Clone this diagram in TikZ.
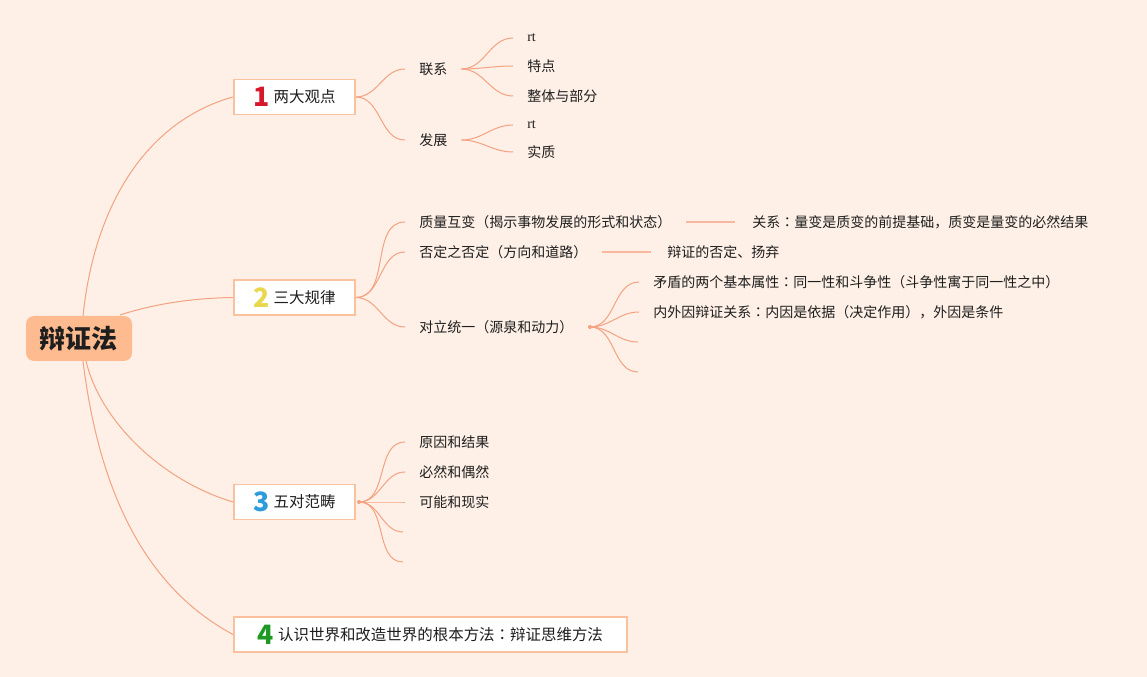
\documentclass[tikz,border=0pt]{standalone}
\usepackage{fontspec}
\setmainfont{Noto Sans CJK SC}
\newfontfamily\latinserif{Liberation Serif}
\newfontfamily\tcfont{Noto Sans CJK TC}
\usetikzlibrary{calc}
\definecolor{bg}{HTML}{FEF0E6}
\definecolor{link}{HTML}{F4A282}
\definecolor{linklight}{HTML}{F8B8A0}
\definecolor{boxline}{HTML}{F9C19E}
\definecolor{rootfill}{HTML}{FDBB8F}
\definecolor{numred}{HTML}{D7182A}
\definecolor{numyellow}{HTML}{E9D74E}
\definecolor{numblue}{HTML}{2D9CDB}
\definecolor{numgreen}{HTML}{1E9A24}
\definecolor{ink}{HTML}{1E1E1E}
\tikzset{
  conn/.style={draw=link, line width=0.75pt},
  thickconn/.style={draw=linklight, line width=1.4pt},
  lvlone/.style={draw=boxline, fill=white, line width=1.4pt, minimum height=26.25pt,
    minimum width=90.75pt, anchor=west, inner sep=0pt, text=ink},
  leaf/.style={anchor=west, inner xsep=10.5pt, inner ysep=2pt, text=ink,
    font=\fontsize{10.5}{12}\selectfont},
  hub/.style={fill=link, circle, inner sep=0pt, minimum size=3pt},
}
\newcommand{\mycolon}{{\tcfont ：}}
\newcommand{\boxcontent}[3]{$\vcenter{\hbox{\fontsize{20}{20}\selectfont\bfseries\color{#1}#2}}$\hspace{3pt}$\vcenter{\hbox{\fontsize{11.6}{14}\selectfont #3}}$}
\begin{document}
\begin{tikzpicture}[x=0.75pt,y=-0.75pt]
\fill[bg] (0,0) rectangle (1147,677);
\useasboundingbox (0,0) rectangle (1147,677);

% root
\node[fill=rootfill, rounded corners=6pt, minimum width=79.5pt, minimum height=33.75pt,
  inner sep=0pt, text=ink, font=\fontsize{19.5}{20}\selectfont\bfseries] (root) at (79,338.5) {辩证法};

% level one boxes
\node[lvlone] (b1) at (233,97) {\boxcontent{numred}{1}{两大观点}};
\node[lvlone] (b2) at (233,297.5) {\boxcontent{numyellow}{2}{三大规律}};
\node[lvlone] (b3) at (233,502) {\boxcontent{numblue}{3}{五对范畴}};
\node[lvlone, minimum width=294.75pt] (b4) at (233,634.5) {\boxcontent{numgreen}{4}{认识世界和改造世界的根本方法\mycolon 辩证思维方法}};

% root connectors
\coordinate (r1) at (83,316);
\coordinate (r2) at (120,315);
\coordinate (r3) at (86,361);
\coordinate (r4) at (83,361);
\draw[conn] (r1) .. controls (95,200) and (150,120) .. (b1.west);
\draw[conn] (r2) .. controls (160,302) and (200,298) .. (b2.west);
\draw[conn] (r3) .. controls (100,420) and (160,480) .. (b3.west);
\draw[conn] (r4) .. controls (100,500) and (150,590) .. (b4.west);

% branch 1
\node[leaf] (lx) at (405,69) {联系};
\node[leaf] (fz) at (405,140) {发展};
\node[leaf] (lx1) at (513,38) {\latinserif rt};
\node[leaf] (lx2) at (513,66) {特点};
\node[leaf] (lx3) at (513,96) {整体与部分};
\node[leaf] (fz1) at (513,125) {\latinserif rt};
\node[leaf] (fz2) at (513,152) {实质};
\draw[conn] (b1.east) to[out=0,in=180] (lx.west);
\draw[conn] (b1.east) to[out=0,in=180] (fz.west);
\foreach \c in {lx1,lx2,lx3} \draw[conn] (lx.east) to[out=0,in=180] (\c.west);
\foreach \c in {fz1,fz2} \draw[conn] (fz.east) to[out=0,in=180] (\c.west);

% branch 2
\node[leaf] (zl) at (405,222) {质量互变（揭示事物发展的形式和状态）};
\node[leaf] (fd) at (405,252) {否定之否定（方向和道路）};
\node[leaf] (dl) at (405,327) {对立统一（源泉和动力）};
\node[leaf] (gx) at (738,222) {关系\mycolon 量变是质变的前提基础，质变是量变的必然结果};
\node[leaf] (bz) at (653,252) {辩证的否定、扬弃};
\node[leaf] (md) at (639,282) {矛盾的两个基本属性\mycolon 同一性和斗争性（斗争性寓于同一性之中）};
\node[leaf] (nw) at (639,312) {内外因辩证关系\mycolon 内因是依据（决定作用），外因是条件};
\coordinate (dl3) at (638,342);
\coordinate (dl4) at (638,372);
\coordinate (dlhub) at (590,327);
\draw[conn] (b2.east) to[out=0,in=180] (zl.west);
\draw[conn] (b2.east) to[out=0,in=180] (fd.west);
\draw[conn] (b2.east) to[out=0,in=180] (dl.west);
\draw[thickconn] (686,222) coordinate (zla) -- (735,222) coordinate (zlb);
\draw[thickconn] (602,252) coordinate (fda) -- (651,252) coordinate (fdb);
\draw[conn] (dl.east) -- (dlhub);
\foreach \c in {md.west,nw.west,dl3,dl4} \draw[conn] (dlhub) to[out=0,in=180] (\c);
\node[hub] (dlh) at (dlhub) {};

% branch 3
\node[leaf] (yy) at (405,442) {原因和结果};
\node[leaf] (br) at (405,472) {必然和偶然};
\node[leaf] (kn) at (405,502) {可能和现实};
\coordinate (c4) at (403,532);
\coordinate (c5) at (403,562);
\coordinate (b3hub) at (359,502);
\foreach \c in {yy.west,br.west,kn.west,c4,c5} \draw[conn] (b3hub) to[out=0,in=180] (\c);
\node[hub] (b3h) at (b3hub) {};
\end{tikzpicture}
\end{document}
